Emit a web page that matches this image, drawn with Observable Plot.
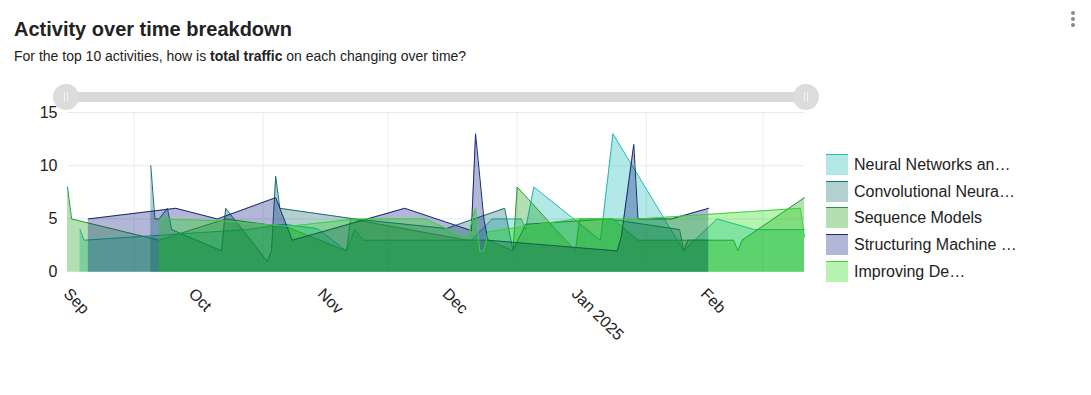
<!DOCTYPE html>
<html>
<head>
<meta charset="utf-8">
<script src="https://cdn.jsdelivr.net/npm/d3@7"></script>
<script src="https://cdn.jsdelivr.net/npm/@observablehq/plot@0.6"></script>
<style>
  body { margin: 0; background: #fff; font-family: "Liberation Sans", Arial, sans-serif; }
  #wrap { position: relative; width: 1091px; height: 395px; overflow: hidden; }
  #title { position: absolute; left: 14px; top: 19px; font-size: 20px; line-height: 20px; font-weight: bold; color: #222; white-space: nowrap; }
  #subtitle { position: absolute; left: 14px; top: 49px; font-size: 14px; line-height: 14px; color: #222; white-space: nowrap; }
  #chart { position: absolute; left: 0; top: 80px; }
  .track { position: absolute; left: 66px; top: 91.5px; width: 740px; height: 10px; background: #d9d9d9; border-radius: 5px; }
  .handle { position: absolute; width: 26px; height: 26px; border-radius: 13px; background: #dcdcdc; top: 83.5px; }
  .handle::before, .handle::after { content: ""; position: absolute; top: 8px; width: 1px; height: 10px; background: #f4f4f4; }
  .handle::before { left: 11px; } .handle::after { left: 14px; }
  .dot { position: absolute; left: 1071px; width: 4px; height: 4px; border-radius: 2px; background: #8a8a8a; }
  .lg { position: absolute; left: 826px; height: 22px; white-space: nowrap; }
  .sw { position: absolute; left: 0; top: 0; width: 22px; height: 21px; box-sizing: border-box; }
  .lt { position: absolute; left: 28px; top: 0; font-size: 16px; line-height: 22px; color: #222; }
</style>
</head>
<body>
<div id="wrap">
  <div id="title">Activity over time breakdown</div>
  <div id="subtitle">For the top 10 activities, how is <b>total traffic</b> on each changing over time?</div>
  <div id="chart"></div>
  <div class="track"></div>
  <div class="handle" style="left:53px"></div>
  <div class="handle" style="left:793px"></div>
  <div class="dot" style="top:11px"></div>
  <div class="dot" style="top:17px"></div>
  <div class="dot" style="top:23px"></div>
  <div id="legend"></div>
</div>
<script>
const seriesNames = ["Neural Networks an…", "Convolutional Neura…", "Sequence Models", "Structuring Machine …", "Improving De…"];

const neuralDates = ["2024-09-05","2024-09-06","2024-10-15","2024-10-24","2024-11-01","2024-11-08","2024-11-10","2024-11-12","2024-12-08","2024-12-13","2024-12-20","2024-12-21","2024-12-23","2025-01-08","2025-01-11","2025-01-28","2025-02-05","2025-02-14","2025-02-26"];
const neuralValues = [4, 3, 4, 4.5, 4.1, 2, 4, 3, 3, 5, 5, 4, 8, 3, 13, 2, 5, 4, 4];

const convDates = ["2024-09-22","2024-09-23","2024-09-24","2024-09-26","2024-09-27","2024-10-09","2024-10-10","2024-10-20","2024-10-21","2024-10-22","2024-10-23","2024-11-10","2024-12-02","2024-12-16","2024-12-18","2024-12-21","2025-01-10","2025-01-27","2025-01-28","2025-01-29","2025-02-03"];
const convValues = [10, 5, 5, 6, 4, 2, 6, 1, 2, 9, 6, 5, 4.1, 6, 2, 4.5, 5, 4, 2, 3, 3];

const seqDates = ["2024-09-02","2024-09-03","2024-09-24","2024-10-10","2024-10-25","2024-11-08","2024-11-09","2024-12-07","2024-12-12","2024-12-18","2024-12-19","2025-01-02","2025-01-03","2025-01-11","2025-01-17","2025-02-09","2025-02-10","2025-02-11","2025-02-26"];
const seqValues = [8, 5, 3, 5, 4.2, 2, 5, 3, 3, 2, 8, 2, 5, 5, 3, 3, 2, 3, 7];

const structDates = ["2024-09-07","2024-09-28","2024-10-08","2024-10-22","2024-10-26","2024-11-22","2024-12-05","2024-12-08","2024-12-09","2024-12-11","2024-12-12","2025-01-12","2025-01-13","2025-01-16","2025-01-17","2025-01-25","2025-02-03"];
const structValues = [5, 6, 5, 7, 3, 6, 4.3, 3.9, 13, 5, 3, 2, 3.3, 12, 5, 5, 6];

const improvDates = ["2024-09-24","2024-10-10","2024-10-25","2024-11-10","2024-11-27","2024-12-07","2024-12-09","2024-12-10","2024-12-11","2024-12-12","2025-01-02","2025-01-17","2025-02-25","2025-02-26"];
const improvValues = [5, 4.8, 4.3, 5, 5, 3.2, 6, 2, 2, 3.8, 5, 5, 6, 3.3];

const yTicks = [0, 5, 10, 15];
const monthTickDates = ["2024-09-01","2024-10-01","2024-11-01","2024-12-01","2025-01-01","2025-02-01"];
const monthTickLabels = ["Sep", "Oct", "Nov", "Dec", "Jan 2025", "Feb"];
const gridDates = ["2024-09-18","2024-10-19","2024-11-18","2024-12-19","2025-01-19","2025-02-16"];

const strokes = ["#2ab5b5", "#1e6d70", "#2b9638", "#1a2a6c", "#3fcf3f"];
const fills = ["#00b6ac", "#006262", "#089400", "#00127d", "#12da00"];
const fillOpacity = 0.3;

const parse = d3.utcParse("%Y-%m-%d");
const seriesData = [
  [neuralDates, neuralValues], [convDates, convValues], [seqDates, seqValues],
  [structDates, structValues], [improvDates, improvValues]
];

const marks = [
  Plot.ruleY([5, 10, 15], {stroke: "#e9e9e9"}),
  Plot.ruleX(gridDates.map(parse), {y1: 0, y2: 15, stroke: "#ececec"})
];
seriesData.forEach(([ds, vs], i) => {
  const rows = ds.map((d, j) => ({date: parse(d), value: vs[j], series: seriesNames[i]}));
  marks.push(Plot.areaY(rows, {x: "date", y: "value", fill: fills[i], fillOpacity}));
  marks.push(Plot.lineY(rows, {x: "date", y: "value", stroke: strokes[i], strokeWidth: 1}));
});
marks.push(Plot.axisY({ticks: yTicks, tickSize: 0, tickPadding: 10, fontSize: 16, fill: "#222", label: null}));
marks.push(Plot.text(monthTickDates.map((d, i) => ({date: parse(d), label: monthTickLabels[i]})), {
  x: "date", text: "label", frameAnchor: "bottom", rotate: 45, textAnchor: "start", lineAnchor: "middle",
  dx: 3, dy: 19, fontSize: 16, fill: "#222"
}));

const chart = Plot.plot({
  width: 820, height: 300,
  marginLeft: 67, marginRight: 16, marginTop: 32, marginBottom: 108.3,
  x: {type: "utc", domain: [parse("2024-09-02"), parse("2025-02-26")], axis: null},
  y: {domain: [0, 15]},
  style: {fontFamily: "'Liberation Sans', Arial, sans-serif", background: "transparent", overflow: "visible"},
  marks
});
document.getElementById("chart").appendChild(chart);

const legend = document.getElementById("legend");
seriesNames.forEach((name, i) => {
  const c = d3.color(fills[i]); c.opacity = fillOpacity;
  const item = document.createElement("div");
  item.className = "lg";
  item.style.top = (154 + i * 26.67) + "px";
  item.innerHTML = `<div class="sw" style="background:${c.toString()};border-top:1.5px solid ${strokes[i]}"></div><div class="lt"></div>`;
  item.querySelector(".lt").textContent = name;
  legend.appendChild(item);
});
</script>
</body>
</html>
